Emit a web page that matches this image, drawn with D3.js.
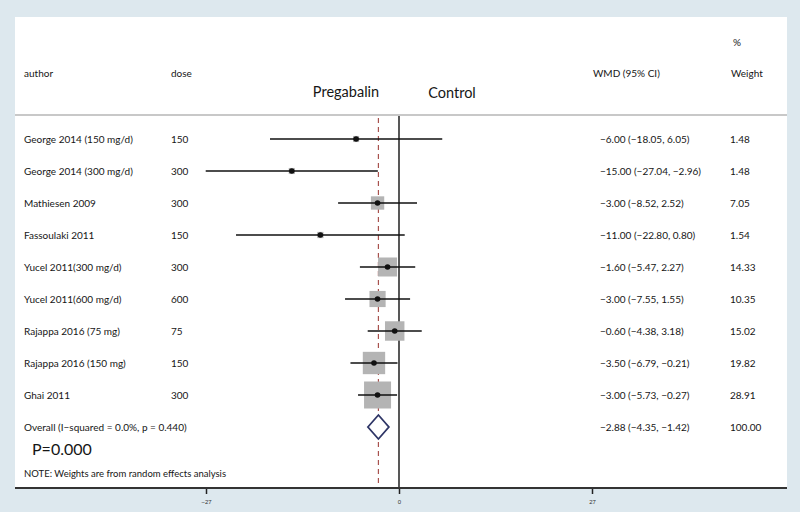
<!DOCTYPE html>
<html>
<head>
<meta charset="utf-8">
<script src="https://cdn.jsdelivr.net/npm/d3@7"></script>
<style>
  body { margin: 0; background: #dde8ee; }
  svg { display: block; font-family: Lato, "Open Sans", sans-serif; }
</style>
</head>
<body>
<svg id="chart" width="800" height="512"></svg>
<script>
// study rows
const authors = ['George 2014 (150 mg/d)', 'George 2014 (300 mg/d)', 'Mathiesen 2009', 'Fassoulaki 2011',
  'Yucel 2011(300 mg/d)', 'Yucel 2011(600 mg/d)', 'Rajappa 2016 (75 mg)', 'Rajappa 2016 (150 mg)', 'Ghai 2011'];
const doses = ['150', '300', '300', '150', '300', '600', '75', '150', '300'];
const wmd = [-6.00, -15.00, -3.00, -11.00, -1.60, -3.00, -0.60, -3.50, -3.00];
const lower = [-18.05, -27.04, -8.52, -22.80, -5.47, -7.55, -4.38, -6.79, -5.73];
const upper = [6.05, -2.96, 2.52, 0.80, 2.27, 1.55, 3.18, -0.21, -0.27];
const weights = [1.48, 1.48, 7.05, 1.54, 14.33, 10.35, 15.02, 19.82, 28.91];

// pooled estimate
const overallLabel = 'Overall  (I\u2212squared = 0.0%, p = 0.440)';
const overall = { est: -2.88, lo: -4.35, hi: -1.42, weight: 100.00 };
const axisTicks = [-27, 0, 27];

const fmt = v => d3.format('.2f')(v).replace('-', '\u2212');
const ink = '#161616';

const svg = d3.select('#chart');

// white panel
svg.append('rect').attr('x', 15).attr('y', 17).attr('width', 772).attr('height', 471).attr('fill', '#fff');

const x = d3.scaleLinear().domain([-27, 27]).range([206, 592]);
const rowNames = authors.concat(['overall']);
const y = d3.scalePoint().domain(rowNames).range([139, 427]);
const box = d3.scaleSqrt().domain([0, 28.91]).range([0, 27]);

// header
const hdr = svg.append('g').attr('fill', ink).attr('font-size', 10);
hdr.append('text').attr('x', 24).attr('y', 77).text('author');
hdr.append('text').attr('x', 171).attr('y', 77).text('dose');
hdr.append('text').attr('x', 593).attr('y', 77).text('WMD (95% CI)');
hdr.append('text').attr('x', 733).attr('y', 46).text('%');
hdr.append('text').attr('x', 731).attr('y', 77).text('Weight');
svg.append('text').attr('x', 346).attr('y', 97).attr('text-anchor', 'middle')
  .attr('font-size', 14.5).attr('fill', ink).text('Pregabalin');
svg.append('text').attr('x', 452).attr('y', 98).attr('text-anchor', 'middle')
  .attr('font-size', 14.5).attr('fill', ink).text('Control');

svg.append('line').attr('x1', 15).attr('x2', 787).attr('y1', 115).attr('y2', 115)
  .attr('stroke', '#c8c8c8').attr('stroke-width', 2);

// reference lines
svg.append('line').attr('x1', x(0)).attr('x2', x(0)).attr('y1', 116).attr('y2', 488)
  .attr('stroke', '#111').attr('stroke-width', 1.4);
svg.append('line').attr('x1', x(overall.est)).attr('x2', x(overall.est)).attr('y1', 118).attr('y2', 488)
  .attr('stroke', '#a8524e').attr('stroke-width', 1.2).attr('stroke-dasharray', '5,4');

// rows
const rows = svg.append('g').selectAll('g').data(authors).join('g')
  .attr('transform', d => `translate(0,${y(d)})`);
rows.append('text').attr('x', 24).attr('dy', '0.35em').attr('font-size', 10).attr('fill', ink).text(d => d);
rows.append('text').attr('x', 171).attr('dy', '0.35em').attr('font-size', 10).attr('fill', ink).text((d, i) => doses[i]);
rows.append('text').attr('x', 600).attr('dy', '0.35em').attr('font-size', 10).attr('fill', ink)
  .text((d, i) => `${fmt(wmd[i])} (${fmt(lower[i])}, ${fmt(upper[i])})`);
rows.append('text').attr('x', 730).attr('dy', '0.35em').attr('font-size', 10).attr('fill', ink)
  .text((d, i) => fmt(weights[i]));

rows.append('rect')
  .attr('x', (d, i) => x(wmd[i]) - box(weights[i]) / 2)
  .attr('y', (d, i) => -box(weights[i]) / 2)
  .attr('width', (d, i) => box(weights[i]))
  .attr('height', (d, i) => box(weights[i]))
  .attr('fill', '#b4b4b4');
rows.append('line')
  .attr('x1', (d, i) => x(lower[i])).attr('x2', (d, i) => x(upper[i]))
  .attr('stroke', '#111').attr('stroke-width', 1.6);
rows.append('circle').attr('cx', (d, i) => x(wmd[i])).attr('r', 2.8).attr('fill', '#111');

// overall
const ov = svg.append('g').attr('transform', `translate(0,${y('overall')})`);
ov.append('text').attr('x', 24).attr('dy', '0.35em').attr('font-size', 10).attr('fill', ink).text(overallLabel);
ov.append('text').attr('x', 600).attr('dy', '0.35em').attr('font-size', 10).attr('fill', ink)
  .text(`${fmt(overall.est)} (${fmt(overall.lo)}, ${fmt(overall.hi)})`);
ov.append('text').attr('x', 730).attr('dy', '0.35em').attr('font-size', 10).attr('fill', ink)
  .text(fmt(overall.weight));
ov.append('path')
  .attr('d', `M${x(overall.lo)},0 L${x(overall.est)},-12 L${x(overall.hi)},0 L${x(overall.est)},12 Z`)
  .attr('fill', '#fff').attr('stroke', '#2e3566').attr('stroke-width', 1.8);

svg.append('text').attr('x', 32).attr('y', 455).attr('font-size', 16).attr('fill', ink).text('P=0.000');
svg.append('text').attr('x', 24).attr('y', 477).attr('font-size', 9.5).attr('fill', ink)
  .text('NOTE: Weights are from random effects analysis');

// x axis
const ax = svg.append('g').attr('transform', 'translate(0,488)')
  .call(d3.axisBottom(x).tickValues(axisTicks).tickSize(6).tickFormat(d => String(d).replace('-', '\u2212')));
ax.select('.domain').remove();
ax.selectAll('.tick line').attr('stroke', '#222').attr('stroke-width', 1.5);
ax.selectAll('.tick text').attr('font-size', 6).attr('fill', '#333').attr('dy', '1.2em');
svg.append('line').attr('x1', 15).attr('x2', 787).attr('y1', 488).attr('y2', 488)
  .attr('stroke', '#333').attr('stroke-width', 2);
</script>
</body>
</html>
